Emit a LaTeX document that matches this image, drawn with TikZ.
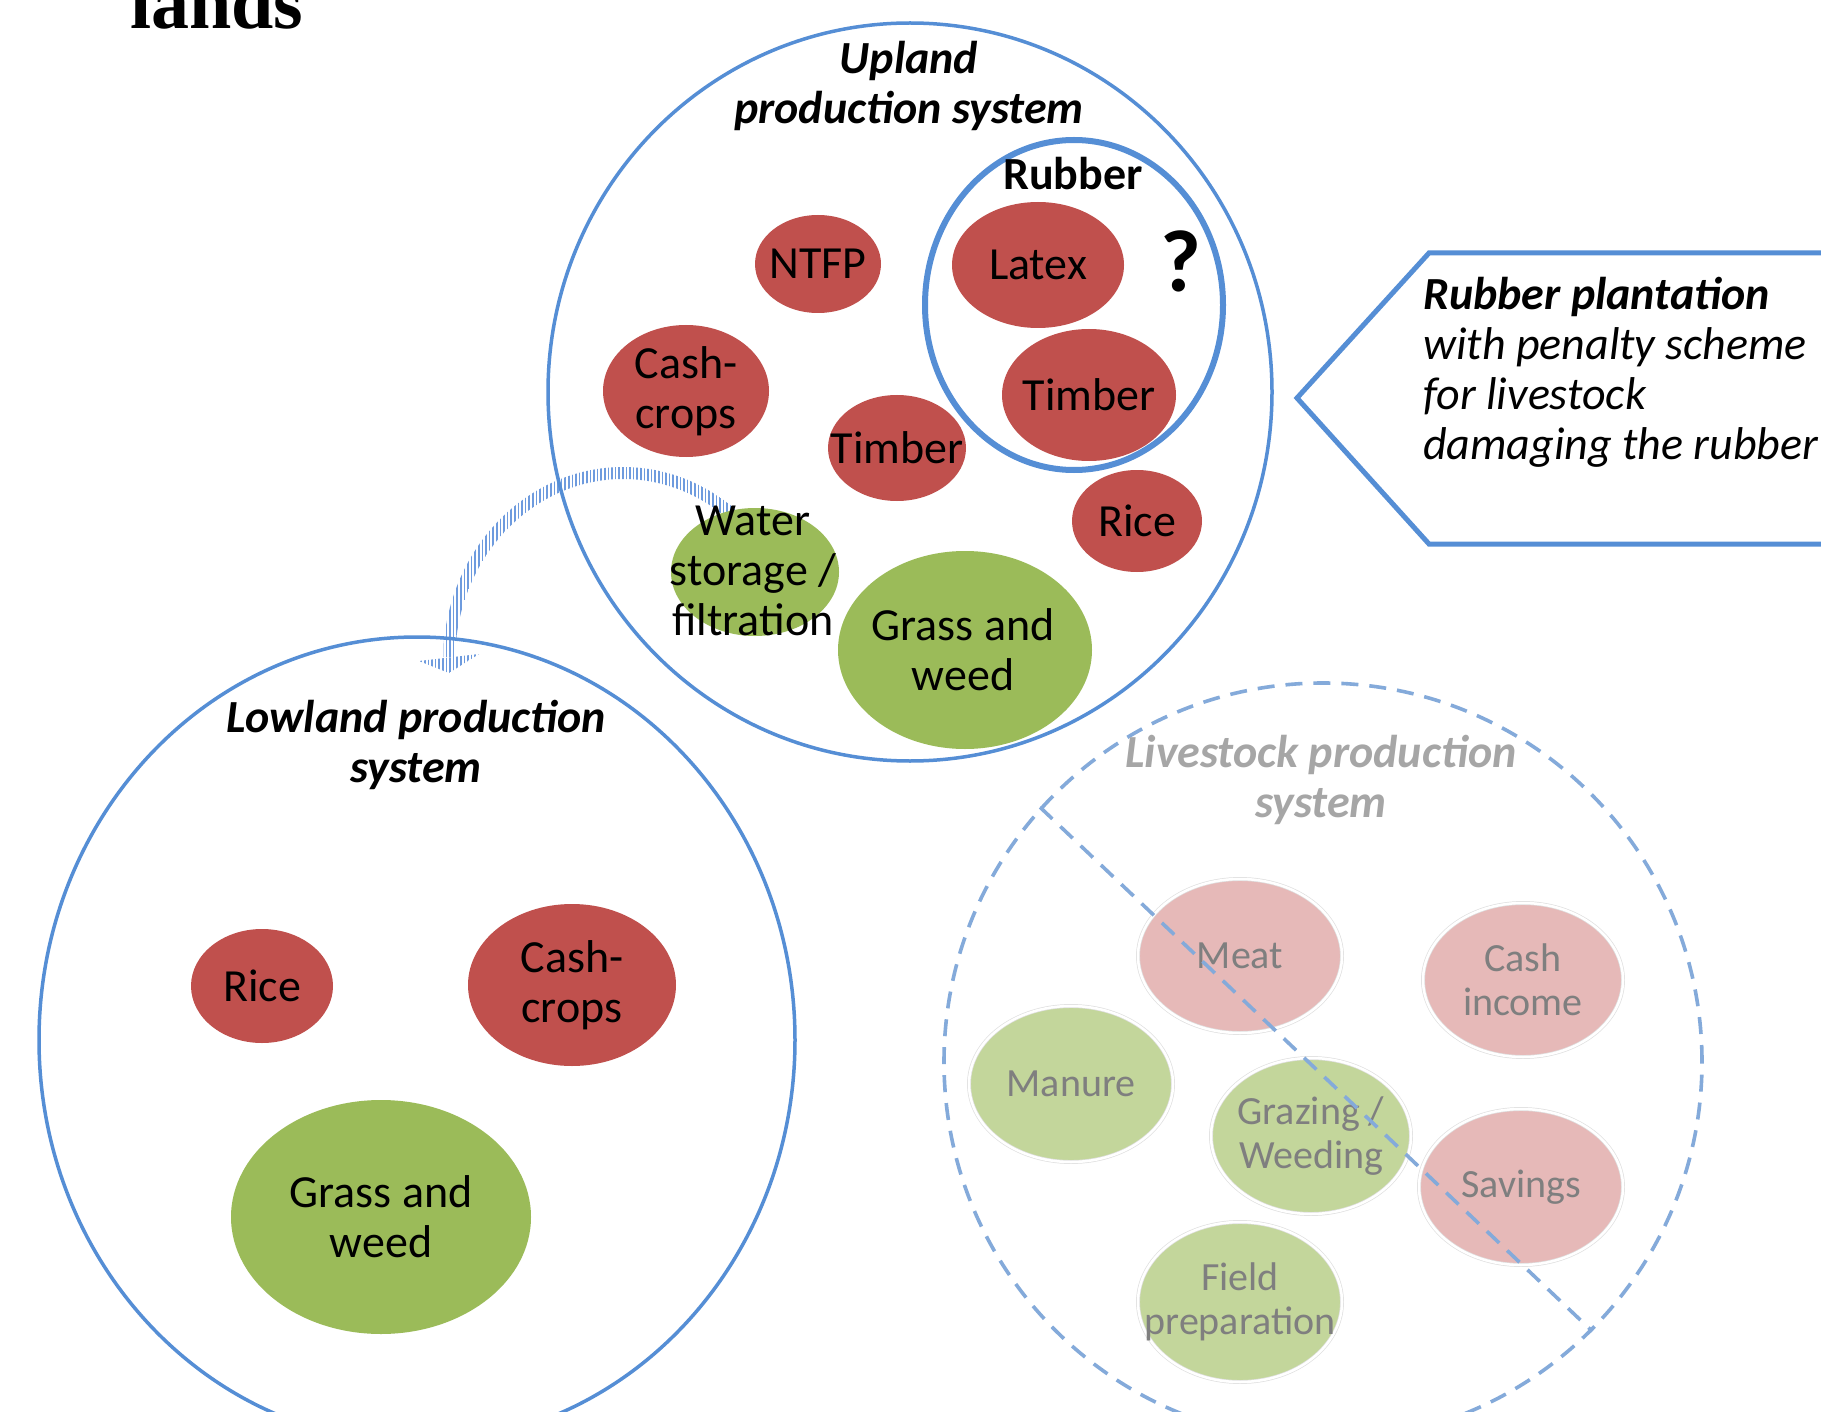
\documentclass[tikz,border=0pt]{standalone}
\usepackage{fontspec}
\setmainfont{Carlito}
\newfontfamily\serifnt{Liberation Serif}
\usetikzlibrary{shapes.geometric,patterns.meta,calc}
\definecolor{lineblue}{RGB}{85,142,213}
\definecolor{cred}{RGB}{192,80,77}
\definecolor{cgreen}{RGB}{155,187,89}
\definecolor{cpink}{RGB}{230,185,184}
\definecolor{clgreen}{RGB}{195,214,155}
\definecolor{dashblue}{RGB}{132,170,218}
\definecolor{txtgray}{RGB}{127,127,127}
\definecolor{ttlgray}{RGB}{166,166,166}
\definecolor{stripeblue}{RGB}{110,155,222}
\newcommand\labfont{\fontsize{46}{50}\selectfont}
\newcommand\lsfont{\fontsize{40}{44}\selectfont}
\tikzset{
  sysline/.style={ellipse, draw=lineblue, line width=3.5pt, inner sep=0pt},
  dashline/.style={draw=dashblue, line width=3.6pt, dash pattern=on 17pt off 11pt},
  redel/.style={ellipse, fill=cred, inner sep=0pt},
  greenel/.style={ellipse, fill=cgreen, inner sep=0pt},
  pinkel/.style={ellipse, fill=cpink, draw=black!12, line width=0.7pt, double=white, double distance=2.5pt, inner sep=0pt},
  lgreenel/.style={ellipse, fill=clgreen, draw=black!12, line width=0.7pt, double=white, double distance=2.5pt, inner sep=0pt},
  lab/.style={font=\labfont, align=center, inner sep=0pt, text=black},
  lslab/.style={font=\lsfont, align=center, inner sep=0pt, text=txtgray},
  ttl/.style={font=\labfont\bfseries\itshape, align=center, inner sep=0pt},
  stripes/.style={pattern={Lines[angle=90,distance=3.6pt,line width=1.7pt]}, pattern color=stripeblue},
}
\begin{document}
\begin{tikzpicture}[x=1pt,y=-1pt]
\useasboundingbox (0,0) rectangle (1821,1412);
\fill[white] (0,0) rectangle (1821,1412);

% heading fragment
\node[font=\serifnt\bfseries\fontsize{76}{84}\selectfont, anchor=base west, inner sep=0pt] (lands) at (130,29) {lands};

% curved striped arrow
\fill[stripes] ($(623,661)+(-48:180 and 194)$) arc[start angle=-48, end angle=-175, x radius=180, y radius=194]
  -- (443.7,657) -- (455.6,657) -- ($(623,661)+(-175:168 and 182)$)
  arc[start angle=-175, end angle=-48, x radius=168, y radius=182] -- cycle;
\fill[stripes] (419,661) -- (479,654) -- (449,673) -- cycle;

% system circles
\node[sysline, minimum width=724, minimum height=738] (up) at (910,392) {};
\node[sysline, minimum width=756, minimum height=806] (low) at (417,1040) {};
\node[ellipse, dashline, minimum width=758, minimum height=758, inner sep=0pt] (ls) at (1323,1062) {};
\node[ellipse, draw=lineblue, line width=6pt, minimum width=298, minimum height=330, inner sep=0pt] (rub) at (1074,305) {};

% titles
\node[ttl] (uptitle) at (909,86) {Upland\\production system};
\node[ttl] (lowtitle) at (416,745) {Lowland production\\system};
\node[ttl, text=ttlgray] (lstitle) at (1321,780) {Livestock production\\system};
\node[font=\labfont\bfseries, inner sep=0pt] (rubtitle) at (1073,174) {Rubber};
\node[font=\fontsize{88}{90}\selectfont\bfseries, inner sep=0pt] (qm) at (1181,261) {?};

% upland items
\node[redel, minimum width=126, minimum height=98] (ntfp) at (818,264) {};
\node[lab] at (ntfp) {NTFP};
\node[redel, minimum width=172, minimum height=126] (latex) at (1038,265) {};
\node[lab] at (latex) {Latex};
\node[redel, minimum width=166, minimum height=132] (upcash) at (686,391) {};
\node[lab] at (upcash) {Cash-\\crops};
\node[redel, minimum width=174, minimum height=132] (rubtimber) at (1089,395) {};
\node[lab] at (rubtimber) {Timber};
\node[redel, minimum width=138, minimum height=106] (uptimber) at (897,448) {};
\node[lab] at (uptimber) {Timber};
\node[redel, minimum width=130, minimum height=102] (uprice) at (1137,521) {};
\node[lab] at (uprice) {Rice};
\node[greenel, minimum width=168, minimum height=128] (water) at (755,572) {};
\node[lab] at (753,571) {Water\\storage /\\filtration};
\node[greenel, minimum width=254, minimum height=198] (upgrass) at (965,650) {};
\node[lab] at (963,650) {Grass and\\weed};

% lowland items
\node[redel, minimum width=142, minimum height=114] (lowrice) at (262,986) {};
\node[lab] at (lowrice) {Rice};
\node[redel, minimum width=208, minimum height=162] (lowcash) at (572,985) {};
\node[lab] at (lowcash) {Cash-\\crops};
\node[greenel, minimum width=300, minimum height=234] (lowgrass) at (381,1217) {};
\node[lab] at (lowgrass) {Grass and\\weed};

% livestock items
\node[pinkel, minimum width=204, minimum height=154] (meat) at (1240,956) {};
\node[lslab] at (meat) {Meat};
\node[pinkel, minimum width=200, minimum height=154] (cash) at (1523,980) {};
\node[lslab] at (cash) {Cash\\income};
\node[lgreenel, minimum width=204, minimum height=156] (manure) at (1071,1084) {};
\node[lslab] at (manure) {Manure};
\node[lgreenel, minimum width=200, minimum height=156] (graze) at (1311,1136) {};
\node[lslab] at (graze) {Grazing /\\Weeding};
\node[pinkel, minimum width=204, minimum height=156] (sav) at (1521,1187) {};
\node[lslab] at (sav) {Savings};
\node[lgreenel, minimum width=204, minimum height=160] (field) at (1240,1302) {};
\node[lslab] at (field) {Field\\preparation};

% dividing line
\draw[dashline] (ls.138) -- (ls.-45);

% callout
\coordinate (ctip) at (1297,398);
\coordinate (ctl) at (1429,253);
\coordinate (ctr) at (1840,253);
\coordinate (cbr) at (1840,544);
\coordinate (cbl) at (1429,544);
\draw[lineblue, line width=5pt, line join=miter] (ctr) -- (ctl) -- (ctip) -- (cbl) -- (cbr);
\node[font=\labfont, align=left, anchor=west, inner sep=0pt] (cotext) at (1423,372)
  {\textbf{\textit{Rubber plantation}}\\ \textit{with penalty scheme}\\ \textit{for livestock}\\ \textit{damaging the rubber}};
\end{tikzpicture}
\end{document}
